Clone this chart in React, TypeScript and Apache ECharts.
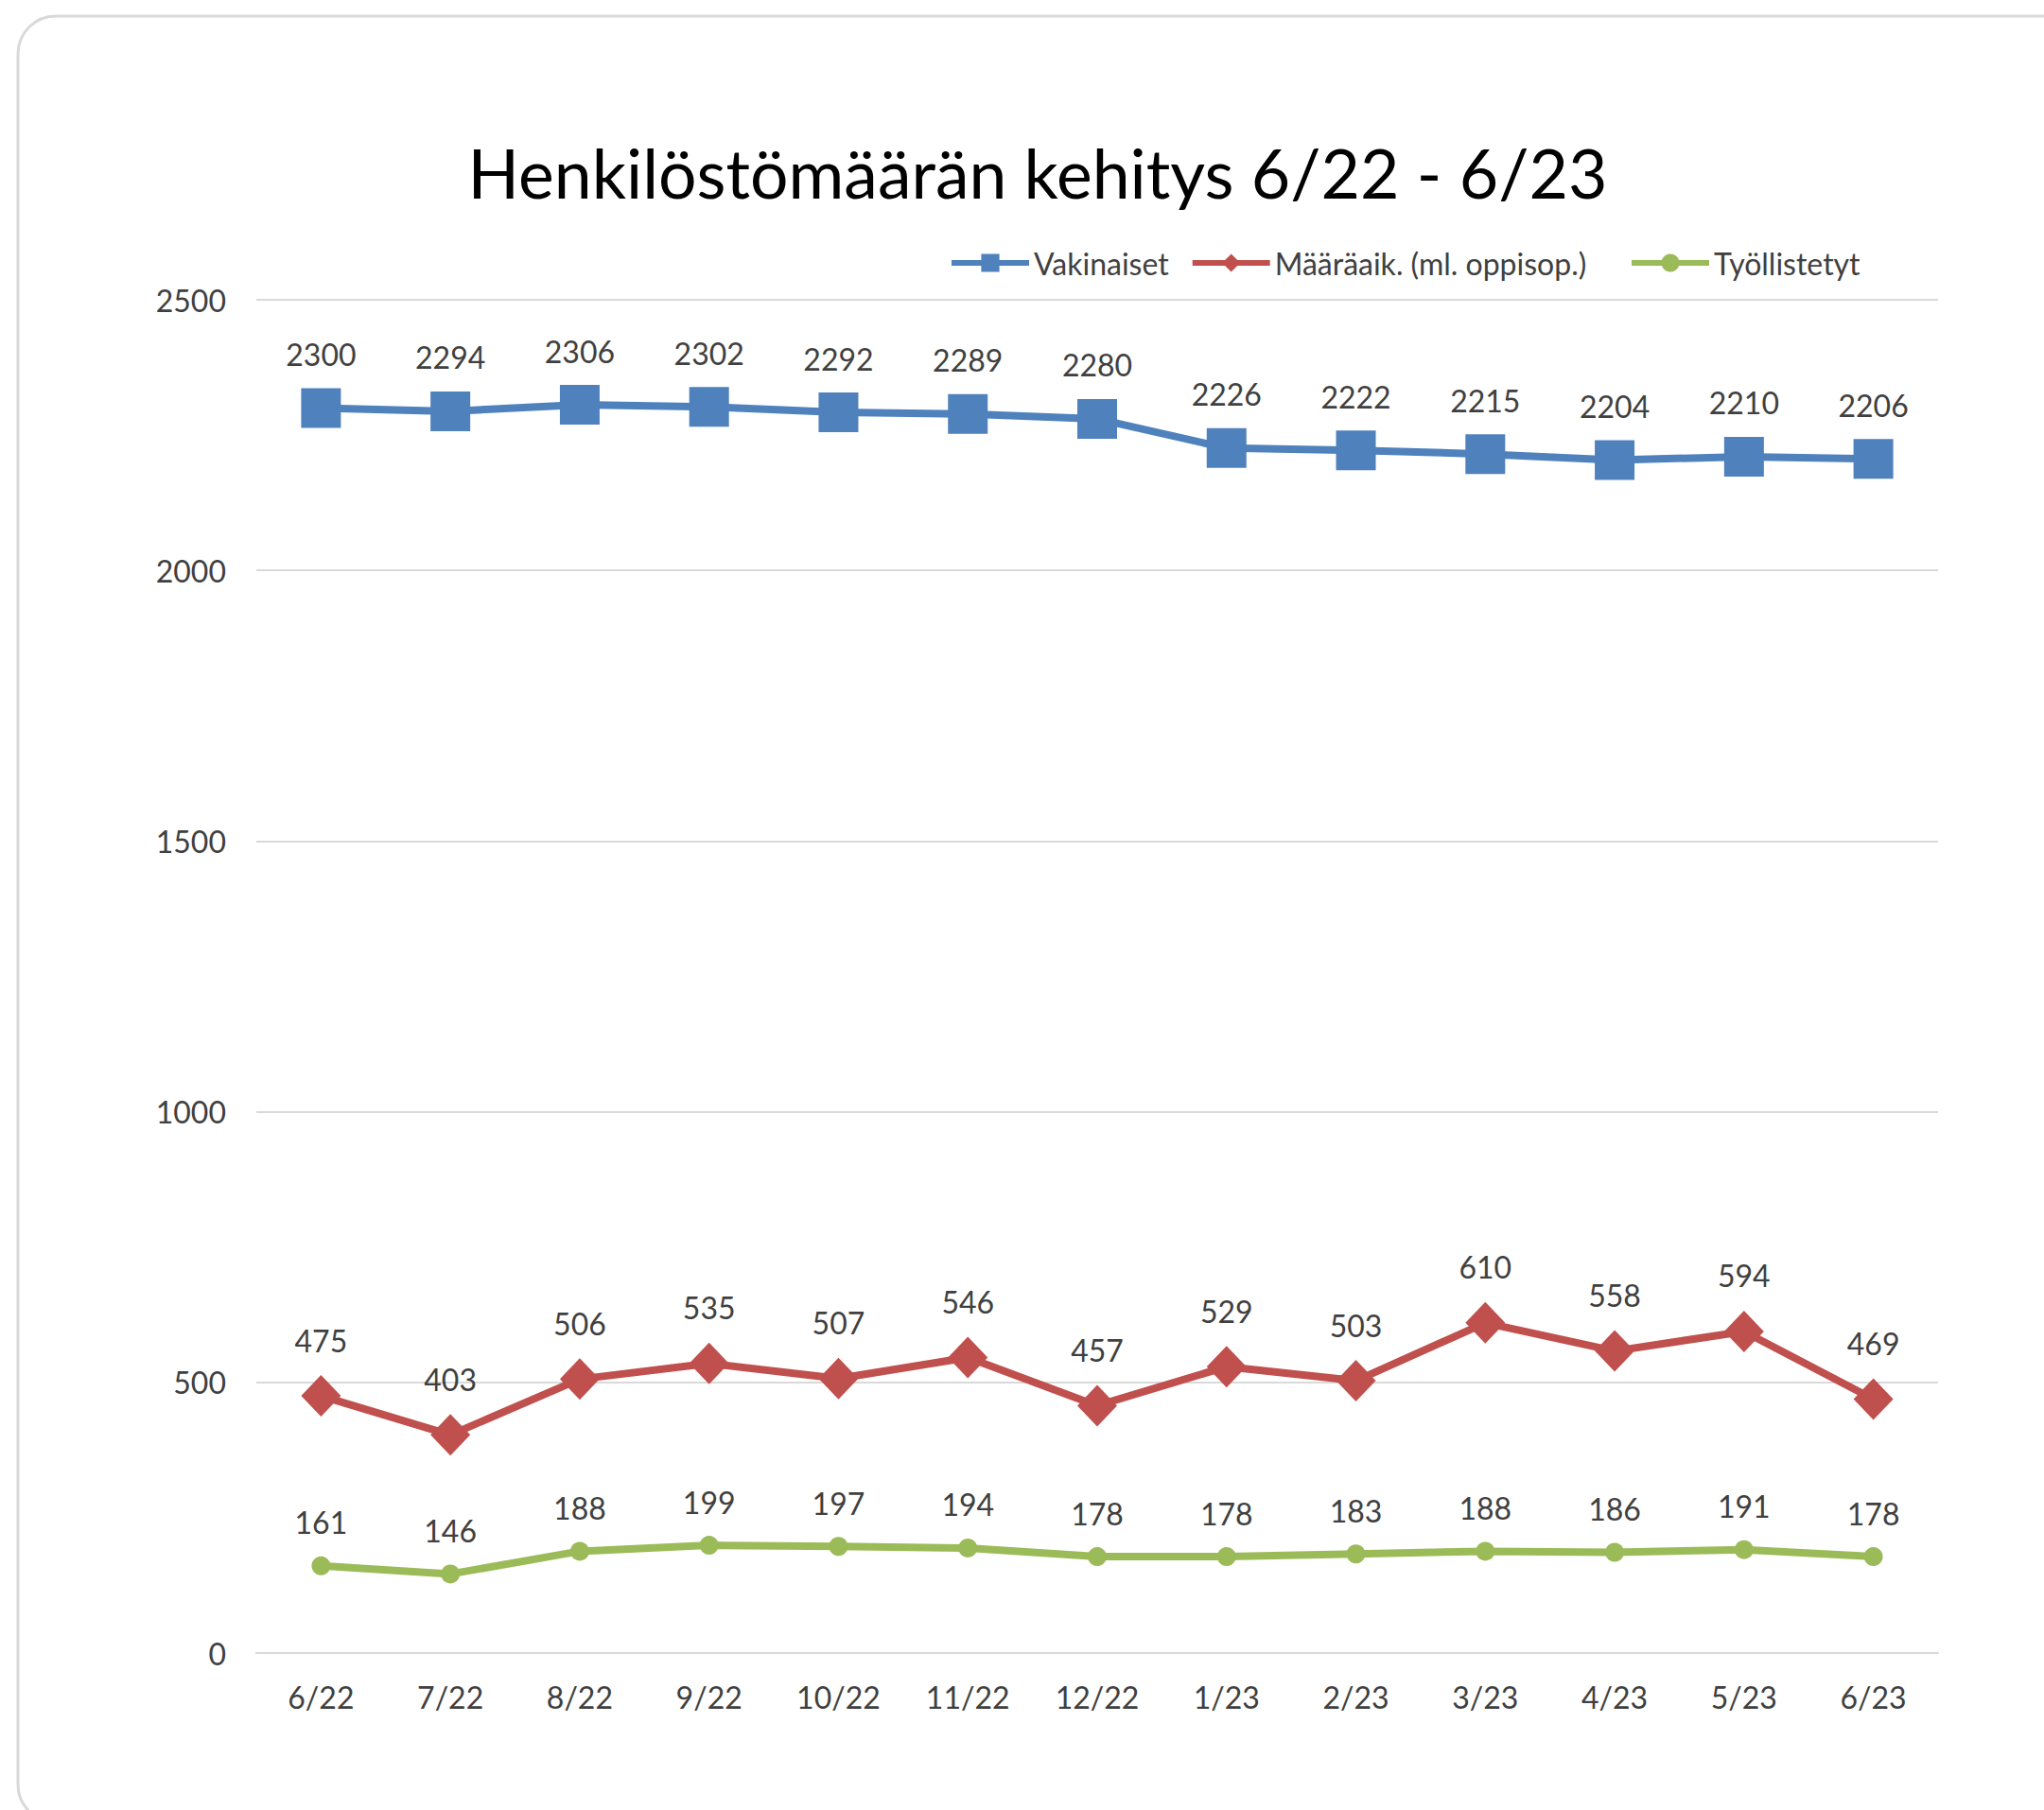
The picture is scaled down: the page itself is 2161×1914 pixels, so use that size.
import React, { useEffect, useRef } from "react";
import * as echarts from "echarts";

const categories = ["6/22", "7/22", "8/22", "9/22", "10/22", "11/22", "12/22", "1/23", "2/23", "3/23", "4/23", "5/23", "6/23"];
const vakinaiset = [2300, 2294, 2306, 2302, 2292, 2289, 2280, 2226, 2222, 2215, 2204, 2210, 2206];
const maaraaik = [475, 403, 506, 535, 507, 546, 457, 529, 503, 610, 558, 594, 469];
const tyollistetyt = [161, 146, 188, 199, 197, 194, 178, 178, 183, 188, 186, 191, 178];
const yTicks = [0, 500, 1000, 1500, 2000, 2500];

const seriesNames = ["Vakinaiset", "Määräaik. (ml. oppisop.)", "Työllistetyt"];
const title = "Henkilöstömäärän kehitys 6/22 - 6/23";

const FONT = "Lato, 'Open Sans', sans-serif";
const TEXT = "#404040";

export default function App() {
  const ref = useRef<HTMLDivElement>(null);
  useEffect(() => {
    document.body.style.margin = "0";
    if (!ref.current) return;
    const chart = echarts.init(ref.current, undefined, { renderer: "svg" });
    const label = {
      show: true,
      position: "top",
      distance: 21,
      fontFamily: FONT,
      fontSize: 32,
      color: TEXT,
    };
    const legendCommon = {
      top: 257,
      itemWidth: 82,
      itemHeight: 24,
      itemGap: 22,
      lineStyle: { width: 6 },
      textStyle: { fontFamily: FONT, fontSize: 32, color: TEXT },
    };
    chart.setOption({
      animation: false,
      backgroundColor: "#ffffff",
      graphic: [
        {
          type: "rect",
          shape: { x: 19, y: 17, width: 2200, height: 1910, r: 40 },
          style: { fill: "none", stroke: "#d9d9d9", lineWidth: 3 },
          silent: true,
          z: -1,
        },
      ],
      title: {
        text: title,
        left: 1092,
        textAlign: "center",
        top: 141,
        textStyle: { fontFamily: FONT, fontSize: 71.5, fontWeight: "normal", color: "#000000" },
      },
      legend: [
        { ...legendCommon, left: 998, data: [seriesNames[0], seriesNames[1]] },
        { ...legendCommon, left: 1717, data: [seriesNames[2]] },
      ],
      grid: { left: 271, right: 112, top: 317, bottom: 166, containLabel: false },
      xAxis: {
        type: "category",
        data: categories,
        boundaryGap: true,
        axisLine: { lineStyle: { color: "#d9d9d9", width: 2 } },
        axisTick: { show: false },
        axisLabel: { fontFamily: FONT, fontSize: 32, color: TEXT, margin: 30 },
      },
      yAxis: {
        type: "value",
        min: yTicks[0],
        max: yTicks[yTicks.length - 1],
        interval: yTicks[1] - yTicks[0],
        axisLine: { show: false },
        axisTick: { show: false },
        splitLine: { lineStyle: { color: "#d9d9d9", width: 2 } },
        axisLabel: {
          fontFamily: FONT,
          fontSize: 32,
          color: TEXT,
          margin: 32,
          formatter: (v: number) => String(v),
        },
      },
      series: [
        {
          name: seriesNames[0],
          type: "line",
          data: vakinaiset,
          symbol: "rect",
          symbolSize: 42,
          lineStyle: { color: "#4f81bd", width: 8 },
          itemStyle: { color: "#4f81bd" },
          label: { ...label, distance: 20 },
        },
        {
          name: seriesNames[1],
          type: "line",
          data: maaraaik,
          symbol: "diamond",
          symbolSize: [42, 44],
          lineStyle: { color: "#c0504d", width: 8 },
          itemStyle: { color: "#c0504d" },
          label,
        },
        {
          name: seriesNames[2],
          type: "line",
          data: tyollistetyt,
          symbol: "circle",
          symbolSize: 20,
          lineStyle: { color: "#9bbb59", width: 8 },
          itemStyle: { color: "#9bbb59" },
          label: { ...label, distance: 20 },
        },
      ],
    });
    return () => chart.dispose();
  }, []);
  return <div ref={ref} style={{ width: 2161, height: 1914 }} />;
}
